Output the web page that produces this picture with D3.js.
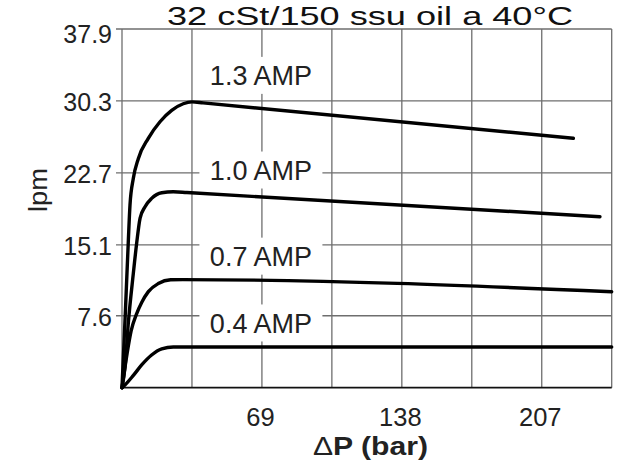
<!DOCTYPE html>
<html>
<head>
<meta charset="utf-8">
<script src="https://cdn.jsdelivr.net/npm/d3@7"></script>
<style>
  html, body { margin: 0; padding: 0; background: #fff; }
  svg { display: block; font-family: "Liberation Sans", Arial, Helvetica, sans-serif; }
</style>
</head>
<body>
<svg id="chart" width="620" height="473"></svg>
<script>
// ---- data ----
const title = "32 cSt/150 ssu oil a 40\u00B0C";
const xLabel = "P (bar)";
const yLabel = "lpm";
const xMax = 241.5;
const yMax = 37.9;
const xGrid = [0, 34.5, 69, 103.5, 138, 172.5, 207, 241.5];
const xTickLabels = [69, 138, 207];
const yTickLabels = [7.6, 15.1, 22.7, 30.3, 37.9];

const seriesNames = ["1.3 AMP", "1.0 AMP", "0.7 AMP", "0.4 AMP"];
const x13 = [0, 1.7, 3.1, 3.94, 5.57, 8.04, 12.97, 18.74, 24.5, 30.2, 34.5, 40, 222.6];
const y13 = [0, 8.2, 15.4, 19.3, 22.1, 24.2, 26.35, 28.1, 29.3, 30.0, 30.2, 30.09, 26.35];
const x10 = [0, 1.5, 3.1, 5.6, 7.25, 8.9, 11.3, 14.6, 19.6, 25.3, 32, 235.7];
const y10 = [0, 2.2, 6.8, 12.1, 15.3, 17.9, 19.1, 20.0, 20.6, 20.7, 20.62, 18.07];
const x07 = [0, 2.5, 4.5, 7.2, 9.7, 13, 17.9, 24, 30, 241.5];
const y07 = [0, 3.6, 6.0, 7.8, 9.0, 10.15, 11.0, 11.4, 11.42, 10.14];
const x04 = [0, 2, 5.6, 9.7, 14.6, 19.6, 25.3, 241.5];
const y04 = [0, 0.4, 1.3, 2.4, 3.45, 4.1, 4.3, 4.3];
const labelX = [68.5, 68.5, 68.5, 68.5];
const labelY = [33.0, 23.0, 13.9, 6.84];

const seriesX = [x13, x10, x07, x04];
const seriesY = [y13, y10, y07, y04];

// ---- drawing ----
const svg = d3.select("#chart");
svg.append("rect").attr("width", 620).attr("height", 473).attr("fill", "#fff");

const x = d3.scaleLinear().domain([0, xMax]).range([122, 611.7]);
const y = d3.scaleLinear().domain([0, yMax]).range([387.7, 29]);

const grid = svg.append("g").attr("stroke", "#6e6e6e").attr("stroke-width", 1.3);
// vertical grid lines
grid.selectAll("line.v").data(xGrid).join("line")
  .attr("x1", d => x(d)).attr("x2", d => x(d))
  .attr("y1", y(yMax)).attr("y2", y(0));
// horizontal grid lines (with short tick stubs to the left)
grid.selectAll("line.h").data(yTickLabels).join("line")
  .attr("x1", x(0) - 6).attr("x2", x(xMax))
  .attr("y1", d => y(d)).attr("y2", d => y(d));
// bottom axis line
svg.append("line")
  .attr("x1", x(0)).attr("x2", x(xMax))
  .attr("y1", y(0)).attr("y2", y(0))
  .attr("stroke", "#111").attr("stroke-width", 1.8);

// label backgrounds
const lab = svg.append("g");
lab.selectAll("rect").data(seriesNames).join("rect")
  .attr("x", (d, i) => x(labelX[i]) - 61.5)
  .attr("y", (d, i) => y(labelY[i]) - 18.5)
  .attr("width", 123).attr("height", 37)
  .attr("fill", "#fff");

// curves
const line = d3.line().curve(d3.curveMonotoneX)
  .x(d => x(d[0])).y(d => y(d[1]));
svg.append("g").selectAll("path").data(seriesNames).join("path")
  .attr("d", (d, i) => line(seriesX[i].map((v, j) => [v, seriesY[i][j]])))
  .attr("fill", "none").attr("stroke", "#000")
  .attr("stroke-width", 3.4).attr("stroke-linejoin", "round").attr("stroke-linecap", "round");

// curve labels
lab.selectAll("text").data(seriesNames).join("text")
  .attr("x", (d, i) => x(labelX[i]))
  .attr("y", (d, i) => y(labelY[i]) + 10)
  .attr("text-anchor", "middle")
  .attr("font-size", 27).attr("fill", "#222")
  .text(d => d);

// y tick labels
svg.append("g").selectAll("text").data(yTickLabels).join("text")
  .attr("x", 112)
  .attr("y", d => Math.max(y(d) + 10.5, 43))
  .attr("text-anchor", "end")
  .attr("font-size", 25).attr("fill", "#222")
  .text(d => d.toFixed(1));

// x tick labels
svg.append("g").selectAll("text").data(xTickLabels).join("text")
  .attr("x", d => x(d) - 1.5)
  .attr("y", 425.7)
  .attr("text-anchor", "middle")
  .attr("font-size", 25.5).attr("fill", "#222")
  .text(d => d);

// x axis title
const xt = svg.append("text")
  .attr("x", 313).attr("y", 455)
  .attr("font-size", 25).attr("fill", "#222")
  .attr("textLength", 115).attr("lengthAdjust", "spacingAndGlyphs");
xt.append("tspan").text("\u0394");
xt.append("tspan").attr("font-weight", "bold").text(xLabel);

// y axis title
svg.append("text")
  .attr("transform", "translate(47,190) rotate(-90)")
  .attr("text-anchor", "middle")
  .attr("font-size", 25).attr("fill", "#222")
  .attr("textLength", 44).attr("lengthAdjust", "spacingAndGlyphs")
  .text(yLabel);

// chart title
svg.append("text")
  .attr("x", 167).attr("y", 24.5)
  .attr("font-size", 26.5).attr("fill", "#111")
  .attr("textLength", 406).attr("lengthAdjust", "spacingAndGlyphs")
  .text(title);
</script>
</body>
</html>
